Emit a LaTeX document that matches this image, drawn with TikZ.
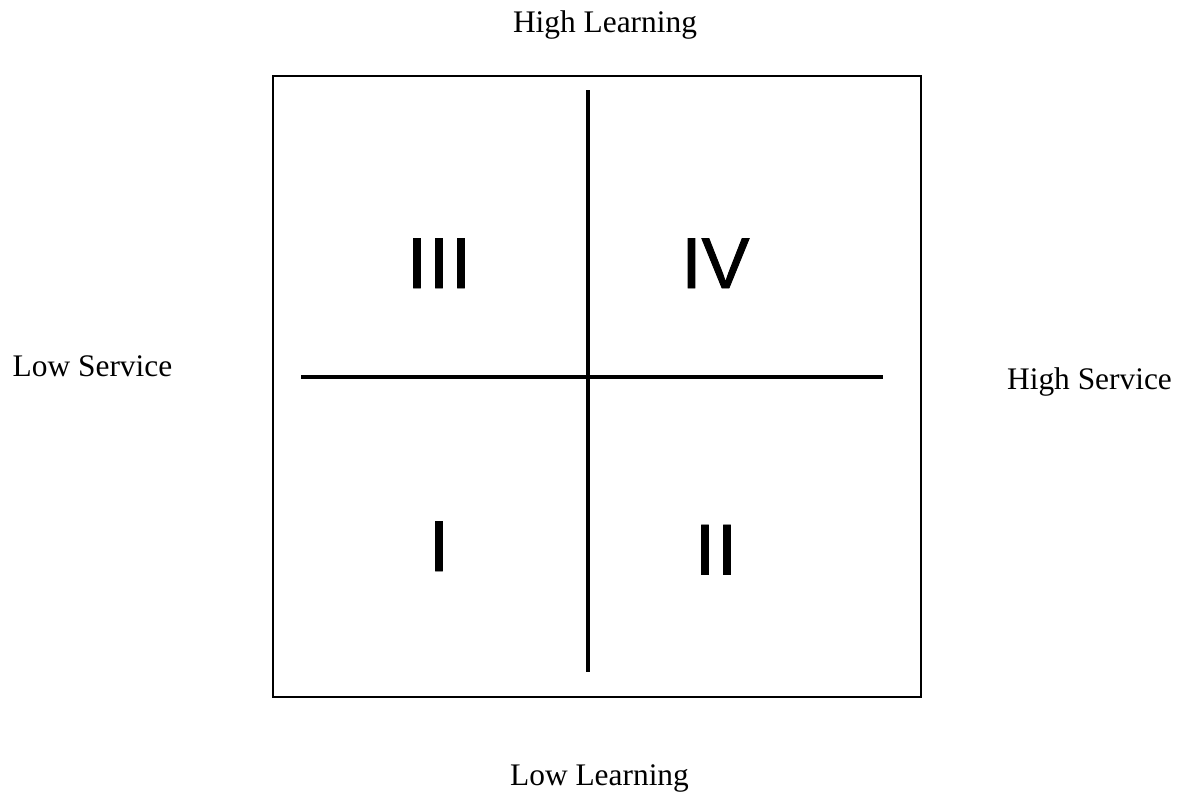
\documentclass[tikz,border=0pt]{standalone}
\usepackage{fontspec}
\setmainfont{Liberation Serif}
\newfontfamily\numfont[FakeBold=1.2]{Liberation Sans}
\begin{document}
\begin{tikzpicture}[x=1pt,y=-1pt,
  axislabel/.style={inner sep=0pt,anchor=base,font=\fontsize{31.4}{36}\selectfont},
  quadnum/.style={inner sep=0pt,anchor=base,font=\numfont\fontsize{72}{80}\selectfont},
  frame/.style={draw=black,line width=2pt},
  divider/.style={draw=black,line width=4pt}]
\useasboundingbox (0,0) rectangle (1180,793);
% outer frame
\draw[frame] (273,76) rectangle (921,697);
% cross
\coordinate (vtop) at (588,90);
\coordinate (vbot) at (588,672);
\coordinate (hleft) at (301,377);
\coordinate (hright) at (883,377);
\draw[divider] (vtop) -- (vbot);
\draw[divider] (hleft) -- (hright);
% axis labels
\node[axislabel] (highL) at (605,32) {High Learning};
\node[axislabel] (lowL) at (599.5,785) {Low Learning};
\node[axislabel] (lowS) at (92.5,376) {Low Service};
\node[axislabel] (highS) at (1089.5,389) {High Service};
% quadrant numerals
\node[quadnum] (q3) at (439,288) {I\kern2pt I\kern2pt I};
\node[quadnum] (q4) at (715.5,288) {IV};
\node[quadnum] (q1) at (439,571) {I};
\node[quadnum] (q2) at (716,574.5) {I\kern2pt I};
\end{tikzpicture}
\end{document}
